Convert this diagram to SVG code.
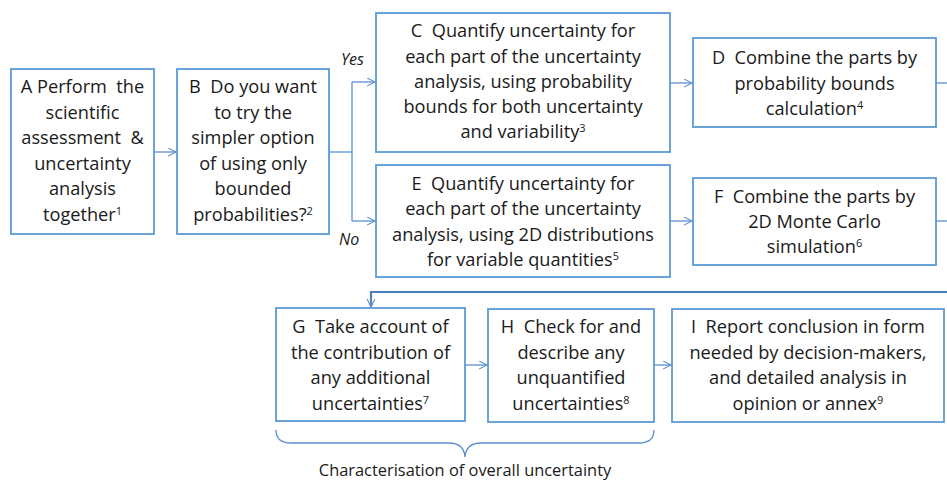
<svg xmlns="http://www.w3.org/2000/svg" width="947" height="482" viewBox="0 0 947 482">
<defs>
<marker id="arr" markerWidth="10" markerHeight="10" refX="8" refY="4" orient="auto" markerUnits="userSpaceOnUse">
<path d="M0,0 L8,4 L0,8" fill="none" stroke="#5b8fd0" stroke-width="1.1"/>
</marker>
<style>
.box{fill:#ffffff;stroke:#5b9bd5;stroke-width:1.8}
.t{font-family:"Open Sans","Noto Sans","Liberation Sans",sans-serif;font-size:18.2px;fill:#1a1a1a;text-anchor:middle}
.sup{font-size:11px}
.c{fill:none;stroke:#5b8fd0;stroke-width:1.3}
.c2{fill:none;stroke:#4a7ebf;stroke-width:2.2}
.lbl{font-family:"Open Sans","Noto Sans","Liberation Sans",sans-serif;font-size:16px;font-style:italic;fill:#1a1a1a}
</style>
</defs>
<rect width="947" height="482" fill="#ffffff"/>
<g id="connectors">
<path class="c" d="M154,152 L176,152" marker-end="url(#arr)"/>
<path class="c" d="M329,152 L352,152"/>
<path class="c" d="M352,82 L352,221"/>
<path class="c" d="M352,82 L375,82" marker-end="url(#arr)"/>
<path class="c" d="M352,221 L375,221" marker-end="url(#arr)"/>
<path class="c" d="M670,83 L692,83" marker-end="url(#arr)"/>
<path class="c" d="M670,221 L692,221" marker-end="url(#arr)"/>
<path class="c" d="M936,83 L947,83"/>
<path class="c" d="M936,221 L947,221"/>
<path class="c2" d="M947,292 L371,292 L371,306"/>
<path class="c" d="M371,298 L371,307" marker-end="url(#arr)"/>
<path class="c" d="M465,365 L487,365" marker-end="url(#arr)"/>
<path class="c" d="M654,365 L671,365" marker-end="url(#arr)"/>
<text class="lbl" x="341" y="65">Yes</text>
<text class="lbl" x="339" y="245">No</text>
</g>
<g id="nodeA">
<rect class="box" x="11" y="69" width="143" height="165"/>
<text class="t" x="82.5" y="93">A Perform&#160; the</text>
<text class="t" x="82.5" y="119">scientific</text>
<text class="t" x="82.5" y="144">assessment&#160; &amp;</text>
<text class="t" x="82.5" y="170">uncertainty</text>
<text class="t" x="82.5" y="195">analysis</text>
<text class="t" x="82.5" y="221">together<tspan class="sup" dy="-6">1</tspan></text>
</g>
<g id="nodeB">
<rect class="box" x="177" y="69" width="152" height="165"/>
<text class="t" x="253" y="93">B&#160; Do you want</text>
<text class="t" x="253" y="119">to try the</text>
<text class="t" x="253" y="144">simpler option</text>
<text class="t" x="253" y="170">of using only</text>
<text class="t" x="253" y="195">bounded</text>
<text class="t" x="253" y="221">probabilities?<tspan class="sup" dy="-6">2</tspan></text>
</g>
<g id="nodeC">
<rect class="box" x="376" y="13" width="294" height="139"/>
<text class="t" x="523" y="37">C&#160; Quantify uncertainty for</text>
<text class="t" x="523" y="63">each part of the uncertainty</text>
<text class="t" x="523" y="88">analysis, using probability</text>
<text class="t" x="523" y="113">bounds for both uncertainty</text>
<text class="t" x="523" y="138">and variability<tspan class="sup" dy="-6">3</tspan></text>
</g>
<g id="nodeD">
<rect class="box" x="693" y="38" width="243" height="89"/>
<text class="t" x="814.5" y="64">D&#160; Combine the parts by</text>
<text class="t" x="814.5" y="90">probability bounds</text>
<text class="t" x="814.5" y="115">calculation<tspan class="sup" dy="-6">4</tspan></text>
</g>
<g id="nodeE">
<rect class="box" x="376" y="165" width="294" height="112"/>
<text class="t" x="523" y="190">E&#160; Quantify uncertainty for</text>
<text class="t" x="523" y="215">each part of the uncertainty</text>
<text class="t" x="523" y="241">analysis, using 2D distributions</text>
<text class="t" x="523" y="266">for variable quantities<tspan class="sup" dy="-6">5</tspan></text>
</g>
<g id="nodeF">
<rect class="box" x="693" y="178" width="243" height="87"/>
<text class="t" x="814.5" y="203">F&#160; Combine the parts by</text>
<text class="t" x="814.5" y="228">2D Monte Carlo</text>
<text class="t" x="814.5" y="253">simulation<tspan class="sup" dy="-6">6</tspan></text>
</g>
<g id="nodeG">
<rect class="box" x="276" y="308" width="189" height="113"/>
<text class="t" x="370.5" y="333">G&#160; Take account of</text>
<text class="t" x="370.5" y="359">the contribution of</text>
<text class="t" x="370.5" y="384">any additional</text>
<text class="t" x="370.5" y="410">uncertainties<tspan class="sup" dy="-6">7</tspan></text>
</g>
<g id="nodeH">
<rect class="box" x="488" y="309" width="166" height="113"/>
<text class="t" x="571" y="333">H&#160; Check for and</text>
<text class="t" x="571" y="359">describe any</text>
<text class="t" x="571" y="384">unquantified</text>
<text class="t" x="571" y="410">uncertainties<tspan class="sup" dy="-6">8</tspan></text>
</g>
<g id="nodeI">
<rect class="box" x="672" y="309" width="272" height="113"/>
<text class="t" x="808" y="333">I&#160; Report conclusion in form</text>
<text class="t" x="808" y="359">needed by decision-makers,</text>
<text class="t" x="808" y="384">and detailed analysis in</text>
<text class="t" x="808" y="410">opinion or annex<tspan class="sup" dy="-6">9</tspan></text>
</g>
<g id="brace">
<path d="M276,430 Q276,443 291,443 L449,443 Q464,443 465,457 Q466,443 481,443 L639,443 Q654,443 654,430" fill="none" stroke="#5b8fd0" stroke-width="1.3"/>
<text class="t" x="465" y="476" style="font-size:16.4px">Characterisation of overall uncertainty</text>
</g>
</svg>
